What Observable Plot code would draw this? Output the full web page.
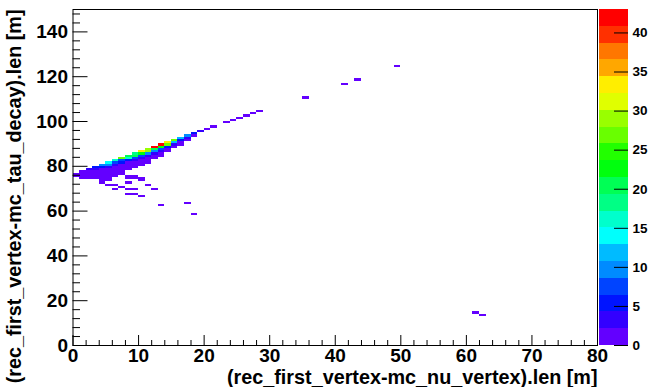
<!DOCTYPE html>
<html><head><meta charset="utf-8">
<script src="https://cdn.jsdelivr.net/npm/d3@7"></script>
<script src="https://cdn.jsdelivr.net/npm/@observablehq/plot@0.6"></script>
<style>
html,body{margin:0;padding:0;background:#fff;}
#chart{position:relative;width:649px;height:387px;background:#fff;}
#chart svg{position:absolute;top:0;}
</style></head><body><div id="chart"></div>
<script>
// ---- data (bin lower edges, bin width 1 in x and y) ----
const xBin = [
 0,0,
 1,1,1,1,
 2,2,2,2,2,
 3,3,3,3,3,3,
 4,4,4,4,4,4,4,4,4,
 5,5,5,5,5,5,5,5,5,5,
 6,6,6,6,6,6,6,6,6,6,
 7,7,7,7,7,7,7,7,7,
 8,8,8,8,8,8,8,8,8,8,8,8,
 9,9,9,9,9,9,9,9,9,9,9,
 10,10,10,10,10,10,10,10,10,10,
 11,11,11,11,11,11,11,11,
 12,12,12,12,12,12,12,
 13,13,13,13,13,13,13,
 14,14,14,14,14,
 15,15,15,15,
 16,16,16,16,
 17,17,17,17,
 18,18,18,
 19,20,21,
 23,24,25,26,27,28,
 35,41,43,49,61,62];
const yBin = [
 76,75,
 77,76,75,74,
 78,77,76,75,74,
 79,78,77,76,75,74,
 80,79,78,77,76,75,74,73,72,
 81,80,79,78,77,76,75,74,73,71,
 82,81,80,79,78,77,76,75,71,69,
 83,82,81,80,79,78,77,76,70,
 84,83,82,81,80,79,78,75,74,72,69,67,
 85,84,83,82,81,80,79,75,74,69,67,
 86,85,84,83,82,81,80,74,73,66,
 87,86,85,84,83,82,81,71,
 88,87,86,85,84,83,69,
 89,88,87,86,85,84,62,
 90,89,88,87,86,
 91,90,89,88,
 92,91,90,89,
 93,92,91,63,
 94,93,58,
 95,96,97,
 99,100,101,102,103,104,
 110,116,118,124,14,13];
const counts = [
 1,1,
 2,1,1,1,
 4,2,1,1,1,
 6,3,2,1,1,1,
 9,5,2,2,1,1,1,1,1,
 15,10,3,2,1,1,1,1,1,1,
 17,8,4,2,2,1,1,1,1,1,
 26,8,5,2,2,1,1,1,1,
 21,16,6,2,1,1,1,1,1,1,1,1,
 18,20,8,3,2,1,1,1,1,1,1,
 33,22,8,3,2,1,1,1,1,1,
 28,30,10,4,2,1,1,1,
 42,20,9,3,2,1,1,
 43,22,8,3,1,1,1,
 33,26,6,2,1,
 26,12,4,1,
 12,6,2,1,
 10,3,1,1,
 5,1,1,
 3,1,1,
 1,1,1,1,1,1,
 1,1,1,1,1,1];
const xTicks = [0,10,20,30,40,50,60,70,80];
const yTicks = [0,20,40,60,80,100,120,140];
const zTicks = [0,5,10,15,20,25,30,35,40];
const xTitle = "(rec_first_vertex-mc_nu_vertex).len [m]";
const yTitle = "(rec_first_vertex-mc_tau_decay).len [m]";
const zMax = 43;
const nLevels = 20;

// ---- derived ----
const cells = counts.map((c, i) => ({x: xBin[i], y: yBin[i], c}));
const thresholds = d3.range(1, nLevels).map(i => i * zMax / nLevels);
// ROOT "pretty" palette (50 HLS colours), picked as THistPainter does for 20 levels
const palette = d3.range(nLevels).map(i => {
  const idx = Math.floor((i + 0.99) * 50 / nLevels);
  return d3.hsl(280 - (idx + 1) * 5.6, 1, 0.5).formatHex();
});
const colorScale = {type: "threshold", domain: thresholds, range: palette};

const W = 649, H = 387, mL = 72.5, mR = 52, mT = 9, mB = 42;
const fW = W - mL - mR, fH = H - mT - mB;
const xDom = [0, 80], yDom = [0, 150];
const xMinor = d3.range(0, 81, 2).filter(v => v % 10);
const yMinor = d3.range(0, 150, 4).filter(v => v % 20);
const tX = 10 * (yDom[1] - yDom[0]) / fH;   // x-axis tick length (10px) in y units
const tY = 15 * (xDom[1] - xDom[0]) / fW;   // y-axis tick length (15px) in x units
const font = "'Liberation Sans', Arial, Helvetica, sans-serif";

const main = Plot.plot({
  width: W, height: H,
  marginLeft: mL, marginRight: mR, marginTop: mT, marginBottom: mB,
  x: {domain: xDom},
  y: {domain: yDom},
  color: colorScale,
  style: {fontFamily: font, fontWeight: "bold", background: "transparent", color: "black"},
  marks: [
    Plot.rect(cells, {x1: "x", x2: d => d.x + 1, y1: "y", y2: d => d.y + 1, fill: "c", shapeRendering: "crispEdges"}),
    Plot.ruleX(xTicks, {y1: yDom[0], y2: yDom[0] + tX, stroke: "black"}),
    Plot.ruleX(xMinor, {y1: yDom[0], y2: yDom[0] + tX / 2, stroke: "black"}),
    Plot.ruleY(yTicks, {x1: xDom[0], x2: xDom[0] + tY, stroke: "black"}),
    Plot.ruleY(yMinor, {x1: xDom[0], x2: xDom[0] + tY / 2, stroke: "black"}),
    Plot.frame({stroke: "black"}),
    Plot.axisX(xTicks, {tickSize: 0, tickPadding: 3, fontSize: 19, fontWeight: "bold", label: null, tickFormat: d => String(d)}),
    Plot.axisY(yTicks, {tickSize: 0, tickPadding: 5, fontSize: 19, fontWeight: "bold", label: null, tickFormat: d => String(d)}),
    Plot.text([xTitle], {frameAnchor: "bottom-right", dy: 32.5, textAnchor: "end", lineAnchor: "middle", fontSize: 19.8, fontWeight: "bold", fill: "black"}),
    Plot.text([yTitle], {frameAnchor: "top-left", dx: -58, rotate: -90, textAnchor: "end", lineAnchor: "middle", fontSize: 19.8, fontWeight: "bold", fill: "black"})
  ]
});

const bands = d3.range(nLevels).map(i => ({lo: i * zMax / nLevels, hi: (i + 1) * zMax / nLevels, mid: (i + 0.5) * zMax / nLevels}));
const barLeft = 590, barML = 9, barW = 29, barTotal = 59;
const bar = Plot.plot({
  width: barTotal, height: H,
  marginLeft: barML, marginRight: barTotal - barML - barW, marginTop: mT, marginBottom: mB,
  x: {domain: [0, 1], axis: null},
  y: {domain: [0, zMax], axis: null},
  color: colorScale,
  style: {fontFamily: font, fontWeight: "bold", background: "transparent", color: "black", overflow: "visible"},
  marks: [
    Plot.rect(bands, {x1: 0, x2: 1, y1: "lo", y2: "hi", fill: "mid", shapeRendering: "crispEdges"}),
    Plot.ruleY(zTicks, {x1: 1 - 14 / barW, x2: 1, stroke: "black"}),
    Plot.axisY(zTicks, {anchor: "right", tickSize: 0, tickPadding: 4, fontSize: 13.5, fontWeight: "bold", label: null, tickFormat: d => String(d)})
  ]
});
bar.style.left = barLeft + "px";

const chart = document.getElementById("chart");
main.style.left = "0px";
chart.appendChild(main);
chart.appendChild(bar);
</script></body></html>
